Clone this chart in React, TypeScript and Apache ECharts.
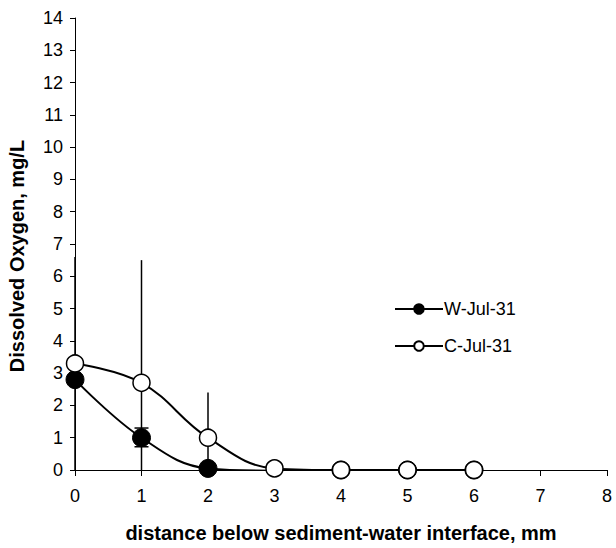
import React, { useEffect, useRef } from "react";
import * as echarts from "echarts";

const xValues = [0, 1, 2, 3, 4, 5, 6];
const wValues = [2.8, 1.0, 0.05, -0.02, 0, 0, 0];
const cValues = [3.3, 2.7, 1.0, 0.05, 0, 0, 0];
// error bars: [x, low, high]
const wErrors = [[1, 0.72, 1.3]];
const cErrors = [[0, 0, 6.6], [1, 0, 6.5], [2, 0.05, 2.4]];
const seriesNames = ["W-Jul-31", "C-Jul-31"];
const xTitle = "distance below sediment-water interface, mm";
const yTitle = "Dissolved Oxygen, mg/L";

function errorRender(cap: number) {
  return (params: any, api: any) => {
    const x = api.value(0);
    const lo = api.coord([x, Math.max(0, api.value(1))]);
    const hi = api.coord([x, api.value(2)]);
    const children: any[] = [
      { type: "line", shape: { x1: lo[0], y1: lo[1], x2: hi[0], y2: hi[1] }, style: { stroke: "#000", lineWidth: 1.5 } },
    ];
    if (cap > 0) {
      children.push({ type: "line", shape: { x1: lo[0] - cap, y1: lo[1], x2: lo[0] + cap, y2: lo[1] }, style: { stroke: "#000", lineWidth: 1.5 } });
      children.push({ type: "line", shape: { x1: hi[0] - cap, y1: hi[1], x2: hi[0] + cap, y2: hi[1] }, style: { stroke: "#000", lineWidth: 1.5 } });
    }
    return { type: "group", children };
  };
}

export default function App() {
  const ref = useRef<HTMLDivElement>(null);
  useEffect(() => {
    if (!ref.current) return;
    const chart = echarts.init(ref.current, undefined, { renderer: "svg" });
    const font = "'Liberation Sans', Arial, sans-serif";
    chart.setOption({
      animation: false,
      backgroundColor: "#fff",
      textStyle: { fontFamily: font },
      grid: { left: 75, right: 9, top: 18, bottom: 78, containLabel: false },
      graphic: [
        {
          type: "text",
          x: 17,
          y: 256,
          rotation: Math.PI / 2,
          style: {
            text: yTitle,
            align: "center",
            verticalAlign: "middle",
            fontFamily: font,
            fontSize: 20,
            fontWeight: "bold",
            fill: "#000",
          },
        },
      ],
      legend: {
        orient: "vertical",
        left: 389,
        top: 295,
        itemWidth: 48,
        itemHeight: 12,
        itemGap: 19,
        textStyle: { fontFamily: font, fontSize: 18, color: "#000", padding: [0, 0, 0, -4] },
        data: seriesNames,
      },
      xAxis: {
        type: "value",
        min: 0,
        max: 8,
        interval: 1,
        name: xTitle,
        nameLocation: "middle",
        nameGap: 53,
        nameTextStyle: { fontFamily: font, fontSize: 20, fontWeight: "bold", color: "#000" },
        axisLine: { lineStyle: { color: "#000", width: 1 } },
        axisTick: { show: true, length: 6, inside: false, lineStyle: { color: "#000" } },
        axisLabel: { fontFamily: font, fontSize: 18, color: "#000", margin: 17 },
        splitLine: { show: false },
      },
      yAxis: {
        type: "value",
        min: 0,
        max: 14,
        interval: 1,
        axisLine: { show: true, lineStyle: { color: "#000", width: 1 } },
        axisTick: { show: true, length: 5, lineStyle: { color: "#000" } },
        axisLabel: { fontFamily: font, fontSize: 18, color: "#000", margin: 12 },
        splitLine: { show: false },
      },
      series: [
        {
          type: "custom",
          renderItem: errorRender(0),
          data: cErrors,
          z: 1,
          silent: true,
        },
        {
          type: "custom",
          renderItem: errorRender(7),
          data: wErrors,
          z: 1,
          silent: true,
        },
        {
          name: seriesNames[0],
          type: "line",
          data: xValues.map((x, i) => [x, wValues[i]]),
          smooth: 0.4,
          symbol: "circle",
          symbolSize: 18,
          lineStyle: { color: "#000", width: 2 },
          itemStyle: { color: "#000", borderColor: "#000", borderWidth: 1 },
          z: 3,
        },
        {
          name: seriesNames[1],
          type: "line",
          data: xValues.map((x, i) => [x, cValues[i]]),
          smooth: 0.4,
          symbol: "circle",
          symbolSize: 17,
          lineStyle: { color: "#000", width: 2 },
          itemStyle: { color: "#fff", borderColor: "#000", borderWidth: 1.5 },
          z: 4,
        },
      ],
    });
    return () => chart.dispose();
  }, []);
  return <div ref={ref} style={{ position: "absolute", left: 0, top: 0, width: 616, height: 548 }} />;
}
